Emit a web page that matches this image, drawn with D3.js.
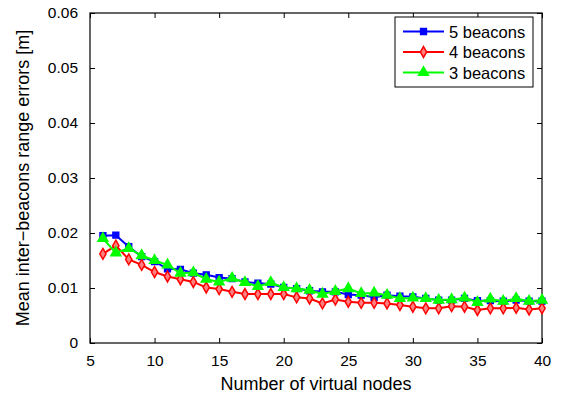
<!DOCTYPE html>
<html>
<head>
<meta charset="utf-8">
<script src="https://cdn.jsdelivr.net/npm/d3@7"></script>
<style>
  html, body { margin: 0; padding: 0; background: #fff; }
  svg { display: block; font-family: "Liberation Sans", Arial, sans-serif; }
</style>
</head>
<body>
<svg id="chart" width="561" height="399"></svg>
<script>
// Number of virtual nodes
const nodes = d3.range(6, 41);

// Mean inter-beacon range error [m] per beacon count
const beacons5 = [0.0195, 0.0196, 0.0175, 0.0157, 0.0148, 0.0135, 0.0134, 0.0127, 0.0124, 0.0119,
                  0.0117, 0.0111, 0.0109, 0.0107, 0.0101, 0.0099, 0.0095, 0.0093, 0.0093, 0.0088,
                  0.0087, 0.0083, 0.0087, 0.0085, 0.0084, 0.0081, 0.0078, 0.0078, 0.0081, 0.0077,
                  0.0077, 0.0076, 0.0078, 0.0076, 0.0076];
const beacons4 = [0.0162, 0.0177, 0.0152, 0.0142, 0.0129, 0.0121, 0.0116, 0.0111, 0.0101, 0.0098,
                  0.0093, 0.0089, 0.0089, 0.0089, 0.0089, 0.0083, 0.0081, 0.0072, 0.0079, 0.0075,
                  0.0073, 0.0073, 0.0072, 0.0069, 0.0066, 0.0063, 0.0063, 0.0067, 0.0066, 0.0060,
                  0.0063, 0.0063, 0.0064, 0.0061, 0.0063];
const beacons3 = [0.0190, 0.0164, 0.0172, 0.0159, 0.0150, 0.0142, 0.0127, 0.0128, 0.0116, 0.0111,
                  0.0118, 0.0110, 0.0103, 0.0110, 0.0101, 0.0099, 0.0096, 0.0089, 0.0094, 0.0099,
                  0.0090, 0.0091, 0.0087, 0.0081, 0.0082, 0.0081, 0.0078, 0.0079, 0.0082, 0.0074,
                  0.0080, 0.0076, 0.0081, 0.0076, 0.0078];

const seriesNames = ["5 beacons", "4 beacons", "3 beacons"];
const xTicks = [5, 10, 15, 20, 25, 30, 35, 40];
const yTicks = [0, 0.01, 0.02, 0.03, 0.04, 0.05, 0.06];

const series = [
  { name: seriesNames[0], values: beacons5, color: "#0000ff", marker: "square" },
  { name: seriesNames[1], values: beacons4, color: "#ff0000", marker: "diamond" },
  { name: seriesNames[2], values: beacons3, color: "#00ff00", marker: "triangle" }
];

const svg = d3.select("#chart");
const plotL = 90, plotR = 542, plotT = 13, plotB = 343;

const x = d3.scaleLinear().domain([5, 40]).range([plotL, plotR]);
const y = d3.scaleLinear().domain([0, 0.06]).range([plotB, plotT]);

const tickFmt = d => d === 0 ? "0" : d3.format(".2f")(d);

// Axes with inward ticks on all four sides
const axisStyle = g => {
  g.select(".domain").remove();
  g.selectAll(".tick line").attr("stroke", "#000").attr("stroke-width", 1);
  g.selectAll(".tick text").attr("fill", "#000").style("font-size", "15.5px");
};

svg.append("g").attr("transform", `translate(0,${plotB})`)
  .call(d3.axisBottom(x).tickValues(xTicks).tickSize(-5).tickPadding(12).tickFormat(d3.format("d")))
  .call(axisStyle);
svg.append("g").attr("transform", `translate(0,${plotT})`)
  .call(d3.axisTop(x).tickValues(xTicks).tickSize(-5).tickFormat(""))
  .call(axisStyle);
svg.append("g").attr("transform", `translate(${plotL},0)`)
  .call(d3.axisLeft(y).tickValues(yTicks).tickSize(-5).tickPadding(12).tickFormat(tickFmt))
  .call(axisStyle);
svg.append("g").attr("transform", `translate(${plotR},0)`)
  .call(d3.axisRight(y).tickValues(yTicks).tickSize(-5).tickFormat(""))
  .call(axisStyle);

// Plot frame
svg.append("rect")
  .attr("x", plotL).attr("y", plotT)
  .attr("width", plotR - plotL).attr("height", plotB - plotT)
  .attr("fill", "none").attr("stroke", "#000").attr("stroke-width", 1.2);

// Axis titles
svg.append("text")
  .attr("x", (plotL + plotR) / 2).attr("y", 390)
  .attr("text-anchor", "middle").style("font-size", "18px")
  .text("Number of virtual nodes");
svg.append("text")
  .attr("transform", `translate(29,${(plotT + plotB) / 2}) rotate(-90)`)
  .attr("text-anchor", "middle").style("font-size", "18px")
  .text("Mean inter\u2212beacons range errors [m]");

// Marker shapes
const symbolFor = m => m === "square" ? d3.symbolSquare : m === "diamond" ? d3.symbolDiamond : d3.symbolTriangle;
const sizeFor = m => m === "square" ? 34 : m === "diamond" ? 34 : 42;
const fillFor = s => s.marker === "diamond" ? "#ff8080" : s.color;

const line = d3.line().x((d, i) => x(nodes[i])).y(d => y(d));

series.forEach(s => {
  const g = svg.append("g");
  g.append("path")
    .datum(s.values)
    .attr("d", line)
    .attr("fill", "none")
    .attr("stroke", s.color)
    .attr("stroke-width", 2);
  g.selectAll("path.mk")
    .data(s.values)
    .join("path")
    .attr("class", "mk")
    .attr("transform", (d, i) => `translate(${x(nodes[i])},${y(d)})`)
    .attr("d", d3.symbol().type(symbolFor(s.marker)).size(sizeFor(s.marker)))
    .attr("fill", fillFor(s))
    .attr("stroke", s.color)
    .attr("stroke-width", 1.5);
});

// Legend
const lg = svg.append("g");
lg.append("rect")
  .attr("x", 395).attr("y", 17).attr("width", 138).attr("height", 70)
  .attr("fill", "#fff").attr("stroke", "#000").attr("stroke-width", 1);
series.forEach((s, i) => {
  const cy = 31.5 + i * 20.5;
  lg.append("line")
    .attr("x1", 403).attr("x2", 444).attr("y1", cy).attr("y2", cy)
    .attr("stroke", s.color).attr("stroke-width", 2);
  lg.append("path")
    .attr("transform", `translate(423.5,${cy})`)
    .attr("d", d3.symbol().type(symbolFor(s.marker)).size(sizeFor(s.marker)))
    .attr("fill", fillFor(s))
    .attr("stroke", s.color)
    .attr("stroke-width", 1.5);
  lg.append("text")
    .attr("x", 449).attr("y", cy + 6)
    .style("font-size", "16.5px")
    .text(s.name);
});
</script>
</body>
</html>
